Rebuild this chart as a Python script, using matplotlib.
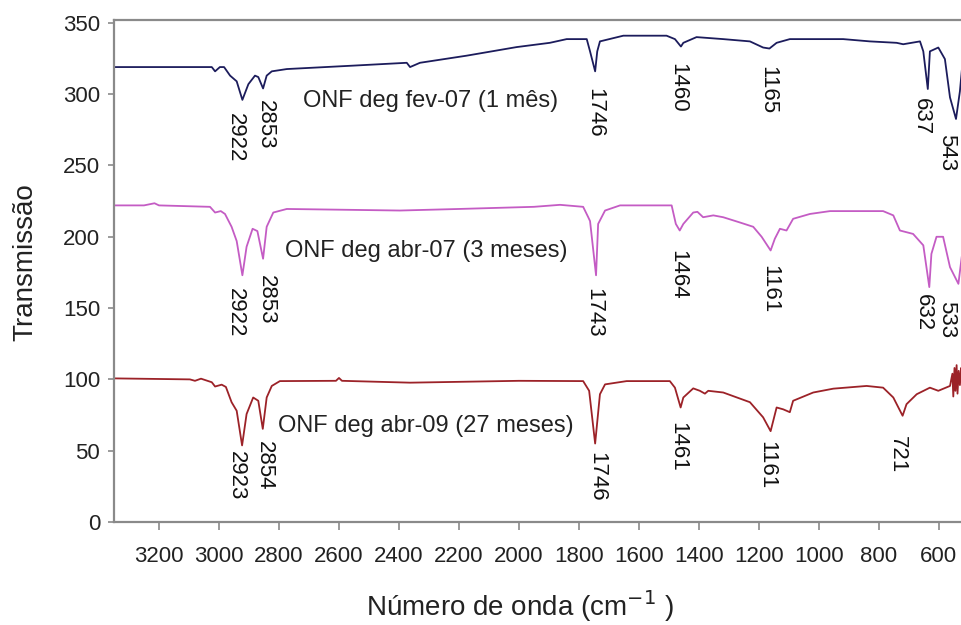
import numpy as np
import matplotlib
matplotlib.use("Agg")
import matplotlib.pyplot as plt

plt.rcParams['font.family'] = ['Liberation Sans', 'DejaVu Sans']

# 1 month spectrum (navy)
fev07_wn = [3350, 3024, 3013, 2997, 2983, 2963, 2941, 2922, 2902, 2880, 2869, 2853, 2841,
            2824, 2774, 2553, 2374, 2363, 2330, 2174, 2008, 1897, 1841, 1774, 1763, 1746,
            1739, 1730, 1652, 1563, 1508, 1480, 1460, 1452, 1408, 1319, 1230, 1186, 1165,
            1141, 1097, 919, 830, 741, 719, 663, 652, 637, 630, 602, 580, 563, 543, 530, 523]
fev07_t = [319, 319, 316, 319, 319, 313, 309, 296, 307, 313, 312, 304, 313,
           316, 317.6, 320, 322, 319, 322, 327, 333, 336, 338.6, 338.6, 330, 316,
           330, 337, 341, 341, 341, 338.6, 333.4, 336, 340, 338.6, 337, 332.7, 332,
           336, 338.6, 338.6, 337, 336, 335, 337, 330, 303.6, 330, 332.7, 324.6, 297.7, 282.6, 302, 318]

# 3 months spectrum (magenta)
abr07_wn = [3350, 3250, 3215, 3200, 3030, 3013, 2994, 2980, 2958, 2941, 2922, 2908, 2888,
            2872, 2853, 2841, 2819, 2774, 2397, 2200, 1950, 1863, 1786, 1769, 1763, 1743,
            1736, 1713, 1663, 1491, 1477, 1464, 1452, 1419, 1405, 1386, 1352, 1319, 1263,
            1219, 1191, 1161, 1147, 1130, 1108, 1086, 1030, 963, 786, 752, 730, 686, 652,
            632, 625, 608, 586, 563, 535, 524]
abr07_t = [222, 222, 223.5, 222, 221, 217, 218, 216, 207, 197, 173, 193, 205.6,
           204, 184.6, 207, 217, 219.5, 218.4, 219.5, 221, 222.4, 221, 213.7, 211, 173,
           209, 218.4, 222, 222, 209, 204.4, 209, 217, 217.5, 213.7, 215, 213.7, 210,
           207, 200, 190.4, 198.6, 205.6, 204.4, 212.6, 216, 218, 218, 215, 204.4, 202, 194,
           164.7, 188, 200, 200, 178.7, 167, 185.7]

# 27 months spectrum (dark red)
abr09_wn = [3350, 3097, 3080, 3060, 3024, 3013, 2991, 2977, 2958, 2941, 2923, 2908, 2886,
            2869, 2854, 2841, 2824, 2797, 2610, 2600, 2590, 2363, 2000, 1786, 1766, 1746,
            1730, 1713, 1641, 1497, 1480, 1461, 1452, 1419, 1397, 1380, 1369, 1319, 1230,
            1186, 1161, 1141, 1119, 1097, 1086, 1019, 952, 841, 786, 752, 721, 708, 674,
            630, 602, 563, 555, 552, 548, 545, 541, 538, 534, 530, 526, 523]
abr09_t = [100.7, 100, 99, 100.5, 98, 95, 96.3, 94.7, 84, 78, 53.7, 75.7, 87.3,
           85, 65.3, 87.3, 95.4, 98.8, 99, 101, 99, 97.7, 99, 98.8, 92, 55,
           89.6, 96.5, 98.8, 98.8, 94.2, 80.3, 87.3, 93.7, 92, 90, 92, 90.8, 84,
           73.4, 63.7, 80.3, 79, 77, 85, 90.8, 93.5, 95.4, 94.2, 87.3, 74.5, 82.6, 89.6,
           94.2, 92, 95.4, 104, 88, 108, 92, 110, 90, 106, 96, 108, 100]

series_names = ['ONF deg fev-07 (1 mês)', 'ONF deg abr-07 (3 meses)', 'ONF deg abr-09 (27 meses)']
colors = ['#1c1c5c', '#c45cc4', '#9c2228']

# peak labels: (text, x, y)
peak_labels = [
    ('2922', 2947, 287), ('2853', 2844, 296), ('1746', 1747, 304), ('1460', 1470, 322),
    ('1165', 1170, 320), ('637', 657, 297), ('543', 573, 272),
    ('2922', 2947, 164), ('2853', 2841, 173), ('1743', 1750, 164), ('1464', 1471, 191),
    ('1161', 1163, 180), ('632', 653, 160), ('533', 573, 155),
    ('2923', 2941, 50), ('2854', 2850, 57), ('1746', 1741, 49), ('1461', 1470, 70),
    ('1161', 1174, 57), ('721', 737, 60),
]
name_pos = [(2720, 295), (2780, 190), (2803, 67)]

fig = plt.figure(figsize=(9.62, 6.25), dpi=100)
ax = fig.add_axes([0.1185, 0.1648, 0.8815, 0.8032])

for wn, t, c in zip([fev07_wn, abr07_wn, abr09_wn], [fev07_t, abr07_t, abr09_t], colors):
    ax.plot(wn, t, color=c, lw=1.3)

for name, (x, y) in zip(series_names, name_pos):
    ax.text(x, y, name, fontsize=17, color='#222222', ha='left', va='center')

for txt, x, y in peak_labels:
    ax.text(x, y, txt, fontsize=16, color='#111111', rotation=270,
            ha='center', va='top')

ax.set_xlim(3350, 523)
ax.set_ylim(0, 352)
ax.set_xticks(np.arange(3200, 599, -200))
ax.set_yticks(np.arange(0, 351, 50))

for s in ['left', 'bottom', 'top']:
    ax.spines[s].set_color('#8a8a8a')
    ax.spines[s].set_linewidth(1.6)
ax.spines['right'].set_visible(False)

ax.tick_params(axis='x', colors='#8a8a8a', labelcolor='#222222', labelsize=16,
               length=6, width=1.2, pad=11)
ax.tick_params(axis='y', colors='#8a8a8a', labelcolor='#222222', labelsize=16,
               length=4, width=1.2, pad=6)

fig.text(0.026, 0.58, 'Transmissão', rotation=90, fontsize=20, color='#222222',
         ha='center', va='center')
fig.text(0.54, 0.03, 'Número de onda (cm$^{-1}$ )', fontsize=20, color='#222222',
         ha='center', va='center')

fig.savefig('out.png', dpi=100)
